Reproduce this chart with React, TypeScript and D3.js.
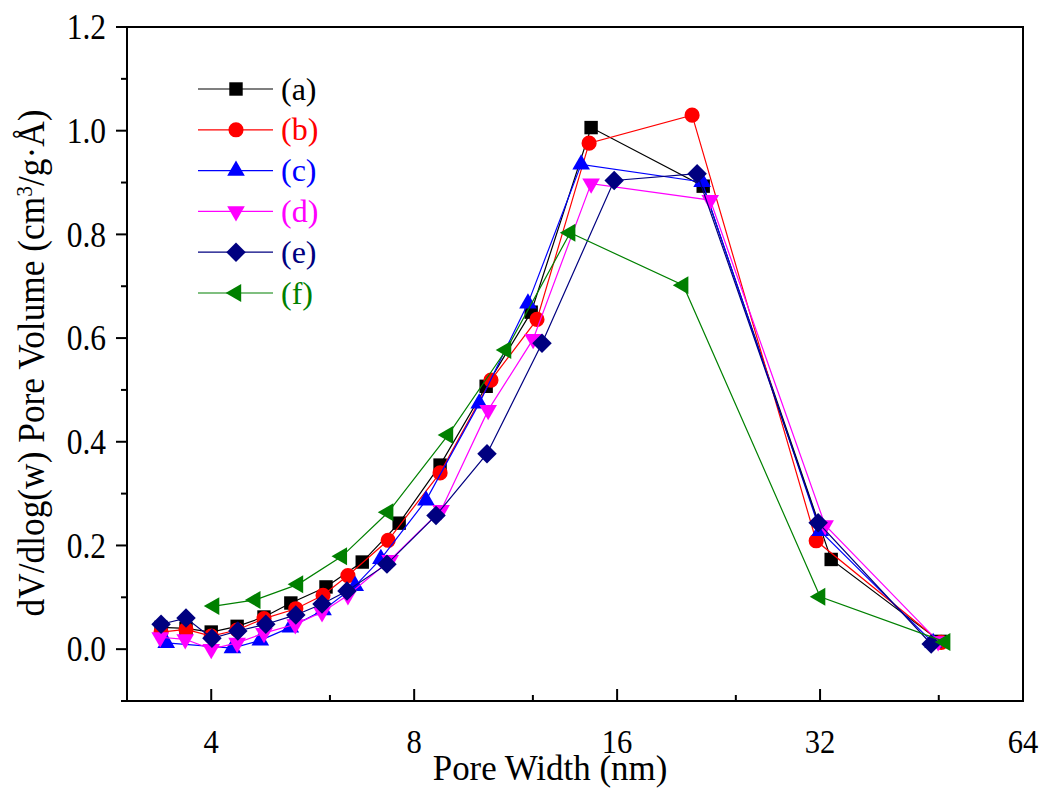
import React from "react";
import * as d3 from "d3";

const seriesNames = ["(a)", "(b)", "(c)", "(d)", "(e)", "(f)"];
const seriesColors = ["#000000", "#ff0000", "#0000ff", "#ff00ff", "#000080", "#008000"];

const aX = [3.37, 3.67, 4.0, 4.37, 4.79, 5.25, 5.92, 6.7, 7.6, 8.74, 10.23, 11.93, 14.64, 21.47, 33.24, 48.23];
const aY = [0.042, 0.04, 0.033, 0.044, 0.062, 0.089, 0.12, 0.168, 0.243, 0.355, 0.507, 0.65, 1.006, 0.893, 0.173, 0.015];

const bX = [3.37, 3.67, 4.0, 4.37, 4.79, 5.34, 5.86, 6.38, 7.32, 8.74, 10.4, 12.17, 14.54, 20.67, 31.58, 48.4];
const bY = [0.033, 0.038, 0.025, 0.037, 0.059, 0.078, 0.104, 0.142, 0.21, 0.34, 0.519, 0.636, 0.976, 1.03, 0.209, 0.013];

const cX = [3.43, 4.3, 4.73, 5.24, 5.86, 6.54, 7.14, 8.33, 9.99, 11.8, 14.15, 21.39, 32.01, 47.09];
const cY = [0.012, 0.002, 0.017, 0.042, 0.075, 0.122, 0.174, 0.287, 0.474, 0.667, 0.935, 0.901, 0.228, 0.012];

const dX = [3.36, 3.66, 4.0, 4.37, 4.79, 5.33, 5.84, 6.38, 7.37, 8.77, 10.3, 12.01, 14.64, 21.99, 32.56, 47.9];
const dY = [0.023, 0.019, 0.0, 0.012, 0.031, 0.048, 0.071, 0.104, 0.172, 0.268, 0.461, 0.598, 0.898, 0.866, 0.239, 0.015];

const eX = [3.37, 3.67, 4.01, 4.38, 4.82, 5.34, 5.84, 6.36, 7.29, 8.62, 10.26, 12.38, 15.84, 21.03, 31.79, 46.77];
const eY = [0.048, 0.06, 0.021, 0.035, 0.048, 0.066, 0.087, 0.112, 0.164, 0.258, 0.377, 0.59, 0.904, 0.917, 0.244, 0.01];

const fX = [4.04, 4.65, 5.38, 6.25, 7.32, 8.98, 10.95, 13.63, 20.05, 32.01, 49.06];
const fY = [0.083, 0.095, 0.125, 0.179, 0.264, 0.413, 0.577, 0.803, 0.702, 0.101, 0.014];

const xMajorTicks = [4, 8, 16, 32, 64];
const xMinorTicks = [6, 12, 24, 48];
const yTicks = [-0.1, 0, 0.1, 0.2, 0.3, 0.4, 0.5, 0.6, 0.7, 0.8, 0.9, 1.0, 1.1, 1.2];

const W = 1043;
const H = 789;
const left = 127;
const right = 1023;
const top = 27;
const bottom = 701;

const FONT = "'Liberation Serif', 'Times New Roman', serif";

type MarkerKind = "square" | "circle" | "up" | "down" | "diamond" | "left";
const markerKinds: MarkerKind[] = ["square", "circle", "up", "down", "diamond", "left"];

function markerPath(kind: MarkerKind): { d: string; rot: number } {
  switch (kind) {
    case "square":
      return { d: d3.symbol().type(d3.symbolSquare).size(180)()!, rot: 0 };
    case "circle":
      return { d: d3.symbol().type(d3.symbolCircle).size(180)()!, rot: 0 };
    case "up":
      return { d: d3.symbol().type(d3.symbolTriangle).size(135)()!, rot: 0 };
    case "down":
      return { d: d3.symbol().type(d3.symbolTriangle).size(135)()!, rot: 180 };
    case "diamond":
      return { d: d3.symbol().type(d3.symbolSquare).size(190)()!, rot: 45 };
    case "left":
      return { d: d3.symbol().type(d3.symbolTriangle).size(140)()!, rot: -90 };
  }
}

export default function App() {
  const x = d3.scaleLog().base(2).domain([3, 64]).range([left, right]);
  const y = d3.scaleLinear().domain([-0.1, 1.2]).range([bottom, top]);

  const allX = [aX, bX, cX, dX, eX, fX];
  const allY = [aY, bY, cY, dY, eY, fY];

  const line = d3
    .line<[number, number]>()
    .x((d) => x(d[0]))
    .y((d) => y(d[1]));

  const legendY0 = 89;
  const legendStep = 40.8;

  return (
    <svg
      width={W}
      height={H}
      style={{ position: "absolute", left: 0, top: 0, background: "#fff" }}
      fontFamily={FONT}
    >
      <rect x={0} y={0} width={W} height={H} fill="#fff" />
      {/* series */}
      {allX.map((xs, i) => {
        const pts: [number, number][] = xs.map((v, j) => [v, allY[i][j]]);
        const m = markerPath(markerKinds[i]);
        return (
          <g key={i}>
            <path d={line(pts)!} fill="none" stroke={seriesColors[i]} strokeWidth={1.2} />
            {pts.map((p, j) => (
              <path
                key={j}
                d={m.d}
                fill={seriesColors[i]}
                transform={`translate(${x(p[0])},${y(p[1])}) rotate(${m.rot})`}
              />
            ))}
          </g>
        );
      })}

      {/* frame */}
      <rect x={left} y={top} width={right - left} height={bottom - top} fill="none" stroke="#000" strokeWidth={2} />

      {/* y ticks */}
      {yTicks.map((t, i) => {
        const major = Math.round(t * 10) % 2 === 0;
        const yy = y(t);
        return (
          <g key={i}>
            <line x1={left - (major ? 11 : 6)} x2={left} y1={yy} y2={yy} stroke="#000" strokeWidth={2} />
            {major && t >= 0 && (
              <text
                transform={`translate(106, ${yy}) scale(0.9, 1)`}
                dy="0.35em"
                textAnchor="end"
                fontSize={35}
              >
                {t.toFixed(1)}
              </text>
            )}
          </g>
        );
      })}

      {/* x ticks */}
      {xMajorTicks.map((t) => (
        <g key={t}>
          <line x1={x(t)} x2={x(t)} y1={bottom} y2={bottom - 12} stroke="#000" strokeWidth={2} />
          <text transform={`translate(${x(t)}, 753) scale(0.9, 1)`} textAnchor="middle" fontSize={34}>
            {t}
          </text>
        </g>
      ))}
      {xMinorTicks.map((t) => (
        <line key={t} x1={x(t)} x2={x(t)} y1={bottom} y2={bottom - 6} stroke="#000" strokeWidth={2} />
      ))}

      {/* axis titles */}
      <text transform={`translate(${(left + right) / 2 - 25}, 780) scale(0.97, 1)`} textAnchor="middle" fontSize={36}>
        Pore Width (nm)
      </text>
      <text
        transform={`translate(44, ${(top + bottom) / 2 - 1}) rotate(-90) scale(0.93, 1)`}
        textAnchor="middle"
        fontSize={38}
      >
        dV/dlog(w) Pore Volume (cm
        <tspan baselineShift="super" fontSize={23}>3</tspan>
        /g·Å)
      </text>

      {/* legend */}
      {seriesNames.map((name, i) => {
        const ly = legendY0 + i * legendStep;
        const m = markerPath(markerKinds[i]);
        return (
          <g key={name}>
            <line x1={198} x2={273} y1={ly} y2={ly} stroke={seriesColors[i]} strokeWidth={1.2} />
            <path d={m.d} fill={seriesColors[i]} transform={`translate(236,${ly}) rotate(${m.rot})`} />
            <text x={281} y={ly} dy="0.33em" fontSize={32} fill={seriesColors[i]}>
              {name}
            </text>
          </g>
        );
      })}
    </svg>
  );
}
